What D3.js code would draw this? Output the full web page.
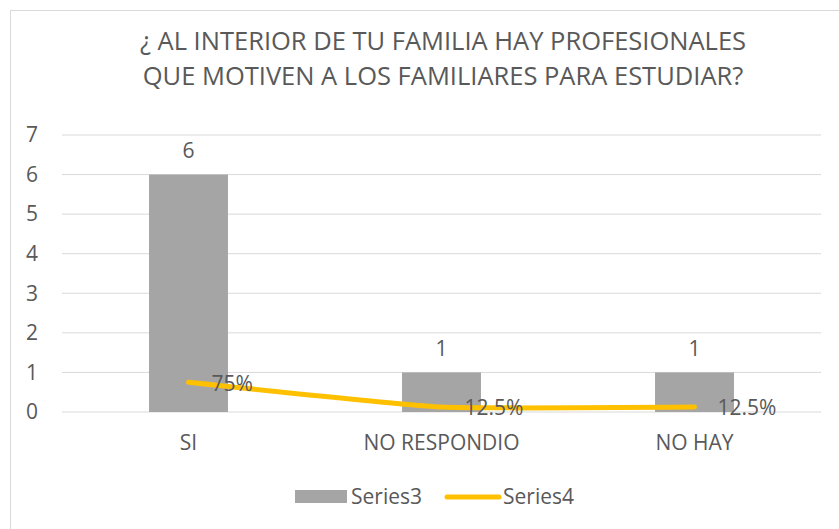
<!DOCTYPE html>
<html>
<head>
<meta charset="utf-8">
<script src="https://cdn.jsdelivr.net/npm/d3@7"></script>
<style>
  body { margin: 0; background: #fff; }
  text { font-family: 'Open Sans', sans-serif; fill: #595959; }
</style>
</head>
<body>
<div id="chart"></div>
<script>
const categories = ['SI', 'NO RESPONDIO', 'NO HAY'];
const series3 = [6, 1, 1];
const series4 = [0.75, 0.125, 0.125];
const series4Labels = ['75%', '12.5%', '12.5%'];
const yTicks = [0, 1, 2, 3, 4, 5, 6, 7];
const titleLines = ['¿ AL INTERIOR DE TU FAMILIA HAY PROFESIONALES', 'QUE MOTIVEN A LOS FAMILIARES PARA ESTUDIAR?'];

const W = 839, H = 529;
const margin = { top: 135, right: 18, bottom: 117, left: 62 };
const width = W - margin.left - margin.right;
const height = H - margin.top - margin.bottom;

const svg = d3.select('#chart').append('svg')
  .attr('width', W)
  .attr('height', H);

// chart border
svg.append('rect')
  .attr('x', 10.5).attr('y', 10.5)
  .attr('width', W).attr('height', H)
  .attr('fill', 'none')
  .attr('stroke', '#d9d9d9');

svg.append('g')
  .selectAll('text')
  .data(titleLines)
  .join('text')
  .attr('x', 443)
  .attr('y', (d, i) => 50 + i * 35)
  .attr('text-anchor', 'middle')
  .style('font-size', '25.5px')
  .text((d) => d);

const g = svg.append('g')
  .attr('transform', `translate(${margin.left},${margin.top})`);

const x = d3.scaleBand().domain(categories).range([0, width]).paddingInner(0.688).paddingOuter(0.344);
const y = d3.scaleLinear().domain([0, 7]).range([height, 0]);

// gridlines
g.append('g')
  .selectAll('line')
  .data(yTicks)
  .join('line')
  .attr('x1', 0).attr('x2', width)
  .attr('y1', (d) => y(d)).attr('y2', (d) => y(d))
  .attr('stroke', '#d9d9d9')
  .attr('stroke-width', 1);

// y labels
g.append('g')
  .selectAll('text')
  .data(yTicks)
  .join('text')
  .attr('x', -24)
  .attr('y', (d) => y(d))
  .attr('dy', '0.35em')
  .attr('text-anchor', 'end')
  .style('font-size', '21px')
  .text((d) => d);

// bars
g.append('g')
  .selectAll('rect')
  .data(series3)
  .join('rect')
  .attr('x', (d, i) => x(categories[i]))
  .attr('y', (d) => y(d))
  .attr('width', x.bandwidth())
  .attr('height', (d) => y(0) - y(d))
  .attr('fill', '#a5a5a5');

g.append('g')
  .selectAll('text')
  .data(series3)
  .join('text')
  .attr('x', (d, i) => x(categories[i]) + x.bandwidth() / 2)
  .attr('y', (d) => y(d) - 24)
  .attr('dy', '0.35em')
  .attr('text-anchor', 'middle')
  .style('font-size', '21px')
  .text((d) => d);

// x labels
g.append('g')
  .selectAll('text')
  .data(categories)
  .join('text')
  .attr('x', (d) => x(d) + x.bandwidth() / 2)
  .attr('y', height + 31)
  .attr('dy', '0.35em')
  .attr('text-anchor', 'middle')
  .style('font-size', '21px')
  .text((d) => d);

// line series (Excel-style smoothed line)
const cx = (i) => x(categories[i]) + x.bandwidth() / 2;
const line = d3.line()
  .x((d, i) => cx(i))
  .y((d) => y(d))
  .curve(d3.curveCardinal.tension(0.6));

g.append('path')
  .datum(series4)
  .attr('d', line)
  .attr('fill', 'none')
  .attr('stroke', '#ffc000')
  .attr('stroke-width', 5)
  .attr('stroke-linecap', 'round');

g.append('g')
  .selectAll('text')
  .data(series4)
  .join('text')
  .attr('x', (d, i) => cx(i) + 23)
  .attr('y', (d) => y(d) + 1)
  .attr('dy', '0.35em')
  .style('font-size', '21px')
  .text((d, i) => series4Labels[i]);

// legend
const legend = svg.append('g');
legend.append('rect')
  .attr('x', 295).attr('y', 490)
  .attr('width', 52).attr('height', 13)
  .attr('fill', '#a5a5a5');
legend.append('text')
  .attr('x', 351).attr('y', 497).attr('dy', '0.35em')
  .style('font-size', '21px')
  .text('Series3');
legend.append('line')
  .attr('x1', 447).attr('x2', 499)
  .attr('y1', 497).attr('y2', 497)
  .attr('stroke', '#ffc000')
  .attr('stroke-width', 5)
  .attr('stroke-linecap', 'round');
legend.append('text')
  .attr('x', 503).attr('y', 497).attr('dy', '0.35em')
  .style('font-size', '21px')
  .text('Series4');
</script>
</body>
</html>
